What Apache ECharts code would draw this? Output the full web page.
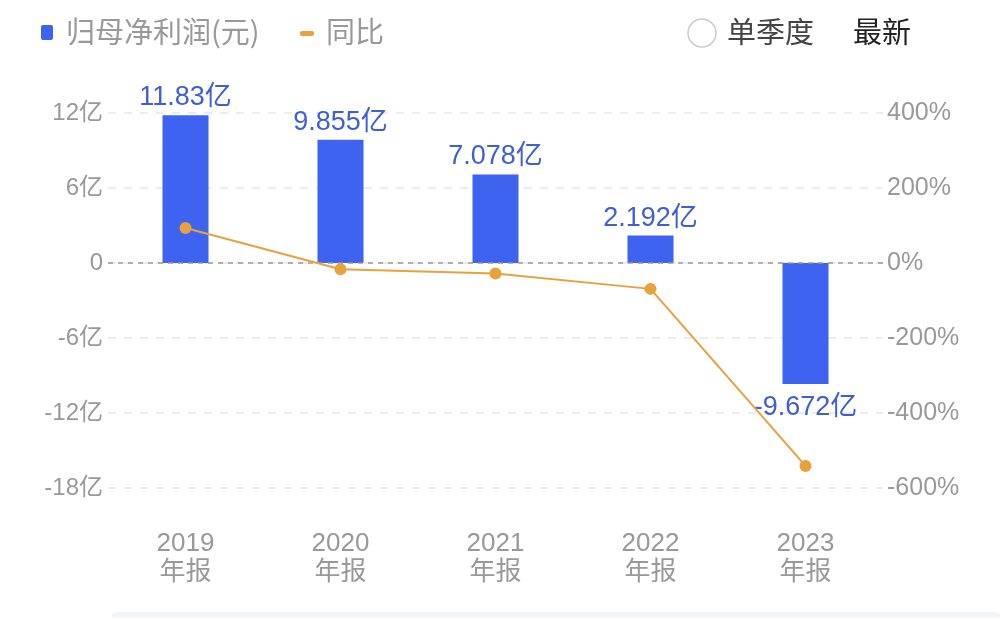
<!DOCTYPE html>
<html>
<head>
<meta charset="utf-8">
<script src="https://cdn.jsdelivr.net/npm/echarts@6/dist/echarts.min.js"></script>
<style>html,body{margin:0;padding:0;background:#fff;}#c{width:1000px;height:618px;}</style>
</head>
<body>
<div id="c"></div>
<script>
var categories = ['2019\n年报', '2020\n年报', '2021\n年报', '2022\n年报', '2023\n年报'];
var profitYi = [11.83, 9.855, 7.078, 2.192, -9.672];
var profitLabels = ['11.83亿', '9.855亿', '7.078亿', '2.192亿', '-9.672亿'];
var yoyPct = [93.5, -16.7, -28.2, -69.0, -541.2];
var leftTicks = { min: -18, max: 12, interval: 6 };
var rightTicks = { min: -600, max: 400, interval: 200 };

var FONT = 'Liberation Sans, "Noto Sans CJK SC", sans-serif';
var chart = echarts.init(document.getElementById('c'));
chart.setOption({
  animation: false,
  textStyle: { fontFamily: FONT },
  grid: { left: 108, right: 117, top: 113, bottom: 130 },
  xAxis: {
    type: 'category',
    data: categories,
    axisLine: { show: false },
    axisTick: { show: false },
    axisLabel: { color: '#999', fontSize: 26, lineHeight: 29, margin: 41, fontFamily: FONT }
  },
  yAxis: [{
    type: 'value',
    min: leftTicks.min, max: leftTicks.max, interval: leftTicks.interval,
    axisLine: { show: false }, axisTick: { show: false },
    axisLabel: {
      color: '#999', fontSize: 24, margin: 5, fontFamily: FONT,
      formatter: function (v) { return v === 0 ? '0' : v + '亿'; }
    },
    splitLine: { lineStyle: { type: [8, 8], color: '#e6e6e6', width: 1.5 } }
  }, {
    type: 'value',
    min: rightTicks.min, max: rightTicks.max, interval: rightTicks.interval,
    axisLine: { show: false }, axisTick: { show: false },
    axisLabel: { color: '#999', fontSize: 25, margin: 4, fontFamily: FONT, formatter: '{value}%' },
    splitLine: { show: false }
  }],
  series: [{
    type: 'bar',
    name: '归母净利润(元)',
    data: profitYi.map(function (v, i) {
      return { value: v, label: v < 0 ? { position: 'bottom', distance: 10 } : { position: 'top' } };
    }),
    barWidth: 46,
    itemStyle: { color: '#3D63F0' },
    label: {
      show: true, color: '#3E5FD6', fontSize: 27, distance: 4, fontFamily: FONT,
      formatter: function (p) { return profitLabels[p.dataIndex]; }
    },
    markLine: {
      silent: true, symbol: 'none', label: { show: false },
      lineStyle: { color: '#999', type: [5, 5], width: 1.5 },
      data: [{ yAxis: 0 }]
    },
    z: 2
  }, {
    type: 'line',
    name: '同比',
    yAxisIndex: 1,
    data: yoyPct,
    symbol: 'circle',
    symbolSize: 12,
    lineStyle: { color: '#E9A23B', width: 2 },
    itemStyle: { color: '#E9A23B' },
    z: 5
  }],
  graphic: [
    { type: 'rect', shape: { x: 41, y: 25, width: 12, height: 15, r: 2 }, style: { fill: '#3D63F0' } },
    { type: 'text', left: 66, top: 17, style: { text: '归母净利润(元)', fill: '#999', font: '29px "Noto Sans CJK SC"' } },
    { type: 'rect', shape: { x: 300, y: 31, width: 14, height: 5, r: 2 }, style: { fill: '#E9A23B' } },
    { type: 'text', left: 326, top: 17, style: { text: '同比', fill: '#999', font: '29px "Noto Sans CJK SC"' } },
    { type: 'circle', shape: { cx: 702, cy: 33, r: 14 }, style: { fill: '#fff', stroke: '#ccc', lineWidth: 1.5 } },
    { type: 'text', left: 727, top: 17, style: { text: '单季度', fill: '#444', font: '29px "Noto Sans CJK SC"' } },
    { type: 'text', left: 853, top: 17, style: { text: '最新', fill: '#222', font: '29px "Noto Sans CJK SC"' } },
    { type: 'rect', shape: { x: 112, y: 612, width: 888, height: 10, r: 4 }, style: { fill: '#f4f5f7' } }
  ]
});
</script>
</body>
</html>
